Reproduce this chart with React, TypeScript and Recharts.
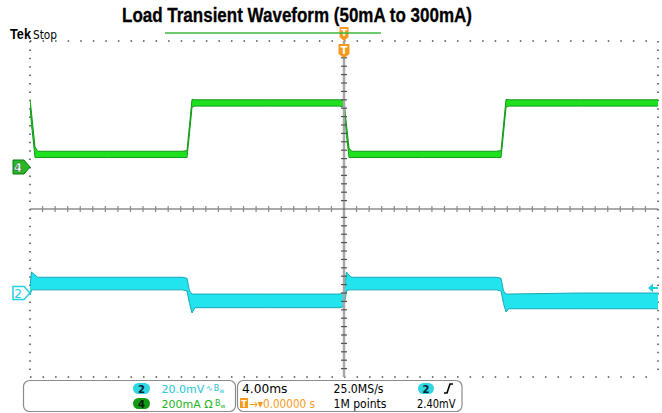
import React from 'react';
import {
  ComposedChart,
  Area,
  XAxis,
  YAxis,
  CartesianGrid,
  ReferenceLine,
  ReferenceDot,
  Scatter,
} from 'recharts';

// ---- Data (time in ms, CH4 current in mA, CH2 voltage in mV) ----
const timeMs = [-20, -19.9, -19.68, -19.5, -15, -10.3, -10.0, -9.84, -9.68, -9.5, -5, -0.3, 0, 0.16, 0.32, 0.5, 5, 9.7, 10.0, 10.16, 10.32, 10.5, 15, 20];
const ch4MinMa = [292, 200, 45, 45, 45, 45, 45, 160, 285, 290, 290, 290, 285, 150, 45, 45, 45, 45, 45, 160, 285, 290, 290, 290];
const ch4MaxMa = [322, 255, 95, 75, 75, 75, 78, 200, 322, 320, 320, 320, 320, 200, 90, 75, 75, 75, 78, 200, 322, 320, 320, 320];
const ch2MinMv = [-1, 1.5, 1.5, 1.5, 1.5, 1.5, 1, -5, -9.5, -7, -7, -7, -6.5, 1, 1.5, 1.5, 1.5, 1.5, 1, -5, -9, -7.5, -7.5, -7.5];
const ch2MaxMv = [3, 10, 8.5, 7.5, 7.5, 7.5, 7, 1, -0.5, -0.5, -0.5, -0.5, 0, 10, 8.5, 7.5, 7.5, 7.5, 7, 1, -0.5, -0.5, 0, 0];

// Graticule ticks (divisions)
const majorTimeTicks = [-16, -12, -8, -4, 4, 8, 12, 16];
const majorDivTicks = [-3, -2, -1, 1, 2, 3];
const minorStepMs = 0.8;
const minorStepDiv = 0.2;
const minorTimeTicks = Array.from({ length: 51 }, (_, i) => +(-20 + i * minorStepMs).toFixed(2));
const minorDivTicks = Array.from({ length: 41 }, (_, i) => +(-4 + i * minorStepDiv).toFixed(2));

// Scales: ch4 ground 1 div above center, 200 mA/div; ch2 ref 2 div below center, 20 mV/div
const ch4Domain = [-1000, 600];
const ch2Domain = [-40, 120];
const trigLevelMv = 2.4;

const data = timeMs.map((t, i) => ({
  t,
  ch4: [ch4MinMa[i], ch4MaxMa[i]],
  ch2: [ch2MinMv[i], ch2MaxMv[i]],
}));

const hCenterTicks = minorTimeTicks.filter((v) => v > -20 && v < 20 && v !== 0).map((t) => ({ t, d: 0 }));
const vCenterTicks = minorDivTicks.filter((v) => v > -4 && v < 4 && v !== 0).map((d) => ({ t: 0, d }));

const GREEN = '#1ee01e';
const GREEN_DARK = '#12991a';
const CYAN = '#22e4ee';
const CYAN_DARK = '#18a8b4';
const ORANGE = '#f59a1c';

const HTick = (p: any) => (
  <line x1={p.cx} x2={p.cx} y1={p.cy - 3} y2={p.cy + 3} stroke="#8a8a8a" strokeWidth={1.2} />
);
const VTick = (p: any) => (
  <line x1={p.cx - 3} x2={p.cx + 3} y1={p.cy} y2={p.cy} stroke="#555" strokeWidth={1.2} />
);

const Ch4Marker = (p: any) => (
  <g>
    <path d={`M${p.cx - 17} ${p.cy - 7} h11 l6 7 l-6 7 h-11 z`} fill="#26b826" stroke="#0d7a0d" strokeWidth={1} />
    <text x={p.cx - 12} y={p.cy + 4.5} textAnchor="middle" fontFamily="DejaVu Sans" fontWeight="bold" fontSize={12} fill="#fff" stroke="#1a4a1a" strokeWidth={0.4}>4</text>
  </g>
);
const Ch2Marker = (p: any) => (
  <g>
    <path d={`M${p.cx - 17} ${p.cy - 6.5} h11 l6 6.5 l-6 6.5 h-11 z`} fill="#fff" stroke="#22cfe0" strokeWidth={1.5} />
    <text x={p.cx - 12} y={p.cy + 4.5} textAnchor="middle" fontFamily="DejaVu Sans" fontSize={12} fill="#22cfe0">2</text>
  </g>
);
const TrigArrow = (p: any) => (
  <path d={`M${p.cx - 10} ${p.cy} l5 -4.5 v3.5 h5 v2 h-5 v3.5 z`} fill="#22cfe0" />
);
const TMarkers = (p: any) => (
  <g>
    <rect x={p.cx - 4.5} y={p.cy - 14} width={9} height={10} fill={ORANGE} />
    <path d={`M${p.cx - 4.5} ${p.cy - 4} h9 l-4.5 4 z`} fill={ORANGE} />
    <text x={p.cx} y={p.cy - 5.5} textAnchor="middle" fontFamily="DejaVu Sans" fontWeight="bold" fontSize={9} fill="#fff">T</text>
    <path d={`M${p.cx - 5.5} ${p.cy + 3} h11 v10 l-5.5 4 l-5.5 -4 z`} fill={ORANGE} />
    <text x={p.cx} y={p.cy + 13} textAnchor="middle" fontFamily="DejaVu Sans" fontWeight="bold" fontSize={10} fill="#fff">T</text>
  </g>
);

const font = 'DejaVu Sans';

export default function App() {
  return (
    <div style={{ position: 'absolute', left: 0, top: 0, width: 662, height: 413, background: '#fff', overflow: 'hidden' }}>
      <ComposedChart width={662} height={413} data={data} margin={{ top: 41, left: 30, right: 4, bottom: 36 }}>
        <XAxis xAxisId="major" dataKey="t" type="number" domain={[-20, 20]} ticks={majorTimeTicks} allowDataOverflow tick={false} tickLine={false} axisLine={false} height={0} />
        <XAxis xAxisId="bot" orientation="bottom" type="number" domain={[-20, 20]} ticks={minorTimeTicks} mirror tick={false} tickSize={3} height={0} axisLine={{ stroke: '#8c8c8c', strokeWidth: 1.5 }} tickLine={{ stroke: '#555' }} />
        <XAxis xAxisId="top" orientation="top" type="number" domain={[-20, 20]} ticks={minorTimeTicks} mirror tick={false} tickSize={3} height={0} axisLine={{ stroke: '#8c8c8c', strokeWidth: 1.5 }} tickLine={{ stroke: '#555' }} />
        <YAxis yAxisId="div" type="number" domain={[-4, 4]} ticks={majorDivTicks} allowDataOverflow tick={false} tickLine={false} axisLine={false} width={0} />
        <YAxis yAxisId="left" type="number" domain={[-4, 4]} ticks={minorDivTicks} mirror tick={false} tickSize={3} width={0} axisLine={{ stroke: '#8c8c8c', strokeWidth: 1.5 }} tickLine={{ stroke: '#555' }} />
        <YAxis yAxisId="right" orientation="right" type="number" domain={[-4, 4]} ticks={minorDivTicks} mirror tick={false} tickSize={3} width={0} axisLine={{ stroke: '#8c8c8c', strokeWidth: 1.5 }} tickLine={{ stroke: '#555' }} />
        <YAxis yAxisId="ma" type="number" domain={ch4Domain} allowDataOverflow hide />
        <YAxis yAxisId="mv" type="number" domain={ch2Domain} allowDataOverflow hide />

        <CartesianGrid xAxisId="major" yAxisId="div" vertical={false} stroke="#4a4a4a" strokeWidth={1.5} strokeDasharray="1.5 11.06" />
        <CartesianGrid xAxisId="major" yAxisId="div" horizontal={false} stroke="#4a4a4a" strokeWidth={1.5} strokeDasharray="1.5 6.9" />

        <ReferenceLine xAxisId="major" yAxisId="div" x={0} stroke="#a8a8a8" strokeWidth={2.5} />
        <ReferenceLine xAxisId="major" yAxisId="div" y={0} stroke="#555" strokeWidth={1.2} />
        <Scatter xAxisId="major" yAxisId="div" data={hCenterTicks} dataKey="d" shape={HTick} isAnimationActive={false} />
        <Scatter xAxisId="major" yAxisId="div" data={vCenterTicks} dataKey="d" shape={VTick} isAnimationActive={false} />

        <Area xAxisId="major" yAxisId="ma" dataKey="ch4" type="linear" fill={GREEN} fillOpacity={1} stroke={GREEN_DARK} strokeWidth={1} isAnimationActive={false} />
        <Area xAxisId="major" yAxisId="mv" dataKey="ch2" type="linear" fill={CYAN} fillOpacity={1} stroke={CYAN_DARK} strokeWidth={1} isAnimationActive={false} />

        <ReferenceDot xAxisId="major" yAxisId="ma" x={-20} y={0} r={0} ifOverflow="visible" shape={Ch4Marker} />
        <ReferenceDot xAxisId="major" yAxisId="mv" x={-20} y={0} r={0} ifOverflow="visible" shape={Ch2Marker} />
        <ReferenceDot xAxisId="major" yAxisId="mv" x={20} y={trigLevelMv} r={0} ifOverflow="visible" shape={TrigArrow} />
        <ReferenceDot xAxisId="major" yAxisId="div" x={0} y={4} r={0} ifOverflow="visible" shape={TMarkers} />
      </ComposedChart>

      <svg width={662} height={413} style={{ position: 'absolute', left: 0, top: 0, pointerEvents: 'none' }}>
        <text x={122} y={22} textLength={350} lengthAdjust="spacingAndGlyphs" fontFamily="Liberation Sans, Arial" fontWeight="bold" fontSize={20} fill="#000" stroke="#000" strokeWidth={0.3}>Load Transient Waveform (50mA to 300mA)</text>
        <text x={10} y={39} fontFamily="Liberation Sans, Arial" fontWeight="bold" fontSize={15} fill="#000" textLength={21} lengthAdjust="spacingAndGlyphs">Tek</text>
        <text x={33} y={38.5} fontFamily={font} fontSize={12.5} fill="#000" textLength={24} lengthAdjust="spacingAndGlyphs">Stop</text>
        <line x1={165} x2={381} y1={33} y2={33} stroke="#3cb83c" strokeWidth={1.5} />

        <rect x={23.5} y={380.5} width={212} height={31} rx={6} fill="#fff" stroke="#8c8c8c" strokeWidth={1.2} />
        <rect x={237.5} y={380.5} width={224.5} height={31} rx={6} fill="#fff" stroke="#8c8c8c" strokeWidth={1.2} />

        <rect x={133} y={383} width={17} height={11} rx={5.5} fill="#2fd6e4" />
        <text x={141.5} y={392.5} textAnchor="middle" fontFamily={font} fontWeight="bold" fontSize={10} fill="#05232a">2</text>
        <text x={161.5} y={393} fontFamily={font} fontSize={11} fill="#22c6d6">20.0mV</text>
        <text x={206} y={391} fontFamily={font} fontSize={8} fill="#22c6d6">∿<tspan dx={1}>B</tspan><tspan fontSize={6} dy={2}>w</tspan></text>

        <rect x={133} y={398} width={17} height={11} rx={5.5} fill="#129a12" />
        <text x={141.5} y={407.5} textAnchor="middle" fontFamily={font} fontWeight="bold" fontSize={10} fill="#041a04">4</text>
        <text x={161.5} y={408} fontFamily={font} fontSize={11} fill="#22b422">200mA Ω</text>
        <text x={215} y={406} fontFamily={font} fontSize={8} fill="#22b422">B<tspan fontSize={6} dy={2}>w</tspan></text>

        <text x={242} y={393} fontFamily={font} fontSize={12} fill="#000" textLength={45.5} lengthAdjust="spacingAndGlyphs">4.00ms</text>
        <text x={333.5} y={393} fontFamily={font} fontSize={12} fill="#000" textLength={50} lengthAdjust="spacingAndGlyphs">25.0MS/s</text>
        <rect x={418} y={383} width={16} height={11} rx={5.5} fill="#2fd6e4" />
        <text x={426} y={392.5} textAnchor="middle" fontFamily={font} fontWeight="bold" fontSize={10} fill="#05232a">2</text>
        <path d="M444 393 h3 l3 -9 h3" fill="none" stroke="#000" strokeWidth={1.6} />

        <rect x={240} y={398} width={8} height={10} fill={ORANGE} />
        <text x={244} y={406.5} textAnchor="middle" fontFamily={font} fontWeight="bold" fontSize={8} fill="#fff">T</text>
        <text x={249} y={408} fontFamily={font} fontSize={12} fill={ORANGE} textLength={66} lengthAdjust="spacingAndGlyphs">→▾0.00000 s</text>
        <text x={333.5} y={408} fontFamily={font} fontSize={12} fill="#000" textLength={53} lengthAdjust="spacingAndGlyphs">1M points</text>
        <text x={417} y={408} fontFamily={font} fontSize={12} fill="#000" textLength={38.5} lengthAdjust="spacingAndGlyphs">2.40mV</text>
      </svg>
    </div>
  );
}
